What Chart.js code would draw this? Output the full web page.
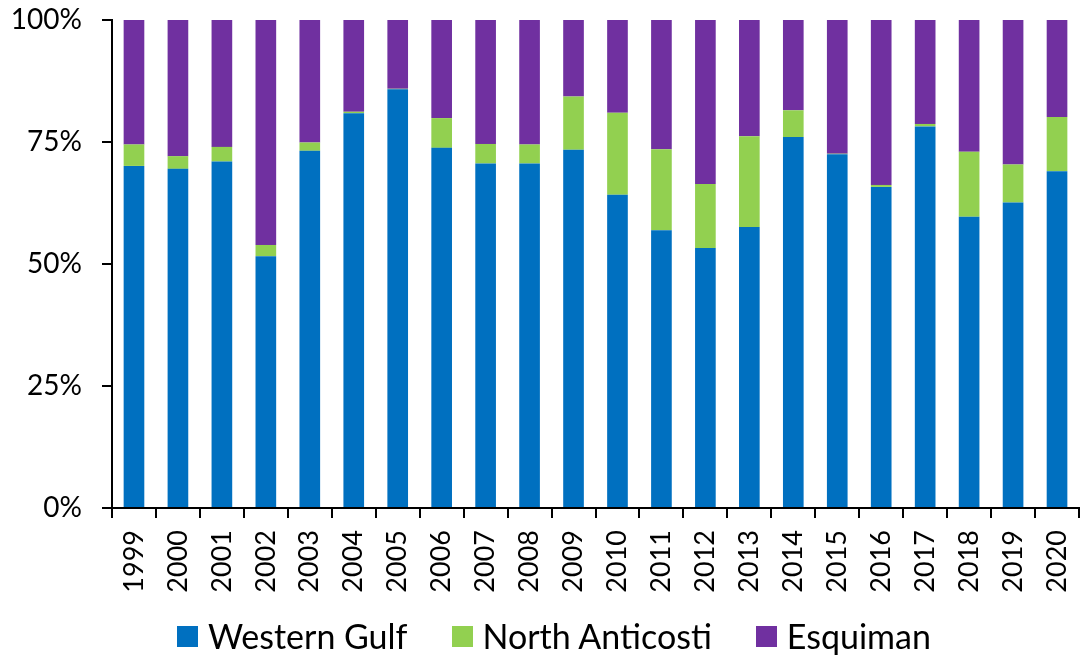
<!DOCTYPE html>
<html>
<head>
<meta charset="utf-8">
<script src="https://cdn.jsdelivr.net/npm/chart.js@4/dist/chart.umd.min.js"></script>
<style>
  html, body { margin: 0; padding: 0; background: #fff; }
  #wrap { position: relative; width: 1081px; height: 655px; }
  #legend {
    position: absolute; left: 177px; top: 619px; height: 34px;
    display: flex; align-items: center;
    font-family: Lato, 'Open Sans', sans-serif; font-size: 34px; line-height: 34px; color: #000;
  }
  #legend .item { display: flex; align-items: center; margin-right: 44px; }
  #legend .box { width: 21px; height: 21px; margin-right: 10px; }
</style>
</head>
<body>
<div id="wrap">
  <canvas id="shareChart"></canvas>
  <div id="legend"></div>
</div>
<script>
// Data (percent of total)
const years = ["1999", "2000", "2001", "2002", "2003", "2004", "2005", "2006", "2007", "2008", "2009",
               "2010", "2011", "2012", "2013", "2014", "2015", "2016", "2017", "2018", "2019", "2020"];
const westernGulf = [70.1, 69.5, 71.0, 51.6, 73.2, 80.9, 85.8, 73.8, 70.6, 70.6, 73.4,
                     64.2, 56.9, 53.3, 57.6, 76.0, 72.5, 65.8, 78.2, 59.7, 62.6, 69.0];
const northAnticosti = [4.4, 2.6, 3.0, 2.3, 1.7, 0.3, 0.1, 6.1, 4.0, 3.9, 10.9,
                        16.8, 16.6, 13.1, 18.6, 5.5, 0.1, 0.4, 0.5, 13.3, 7.8, 11.1];
const esquiman = westernGulf.map((v, i) => +(100 - v - northAnticosti[i]).toFixed(1));
const yTicks = [0, 25, 50, 75, 100];

const fontFamily = "Lato, 'Open Sans', sans-serif";

const ctx = document.getElementById("shareChart").getContext("2d");
const chart = new Chart(ctx, {
    type: "bar",
    data: {
        labels: years,
        datasets: [
            { label: "Western Gulf", data: westernGulf, backgroundColor: "#0070C0" },
            { label: "North Anticosti", data: northAnticosti, backgroundColor: "#92D050" },
            { label: "Esquiman", data: esquiman, backgroundColor: "#7030A0" }
        ]
    },
    options: {
        responsive: true,
        maintainAspectRatio: false,
        animation: false,
        datasets: {
            bar: { barPercentage: 0.47, categoryPercentage: 1.0 }
        },
        layout: { padding: { top: 20, right: 2, left: 0, bottom: 0 } },
        plugins: {
            tooltip: { enabled: false },
            legend: { display: false }
        },
        scales: {
            x: {
                stacked: true,
                grid: { drawOnChartArea: false, drawTicks: true, tickLength: 10, color: "#000", lineWidth: 2 },
                border: { color: "#000", width: 2 },
                ticks: {
                    color: "#000",
                    font: { family: fontFamily, size: 27 },
                    minRotation: 90,
                    maxRotation: 90,
                    autoSkip: false,
                    padding: 12
                },
                afterFit: function (scale) {
                    scale.height = 147;
                    scale.paddingLeft = 0;
                    scale.paddingRight = 0;
                }
            },
            y: {
                stacked: true,
                min: 0,
                max: 100,
                afterBuildTicks: function (scale) {
                    scale.ticks = yTicks.map(v => ({ value: v }));
                },
                grid: { drawOnChartArea: false, drawTicks: true, tickLength: 10, color: "#000", lineWidth: 2 },
                border: { color: "#000", width: 2 },
                ticks: {
                    color: "#000",
                    font: { family: fontFamily, size: 28 },
                    padding: 20,
                    callback: function (value) { return value + "%"; }
                },
                afterFit: function (scale) {
                    scale.width = 112;
                    scale.paddingTop = 0;
                    scale.paddingBottom = 0;
                }
            }
        }
    }
});

// Legend below the chart, built from the chart's datasets
const legendEl = document.getElementById("legend");
chart.data.datasets.forEach(function (ds) {
    const item = document.createElement("div");
    item.className = "item";
    const box = document.createElement("span");
    box.className = "box";
    box.style.backgroundColor = ds.backgroundColor;
    const text = document.createElement("span");
    text.textContent = ds.label;
    item.appendChild(box);
    item.appendChild(text);
    legendEl.appendChild(item);
});
</script>
</body>
</html>
